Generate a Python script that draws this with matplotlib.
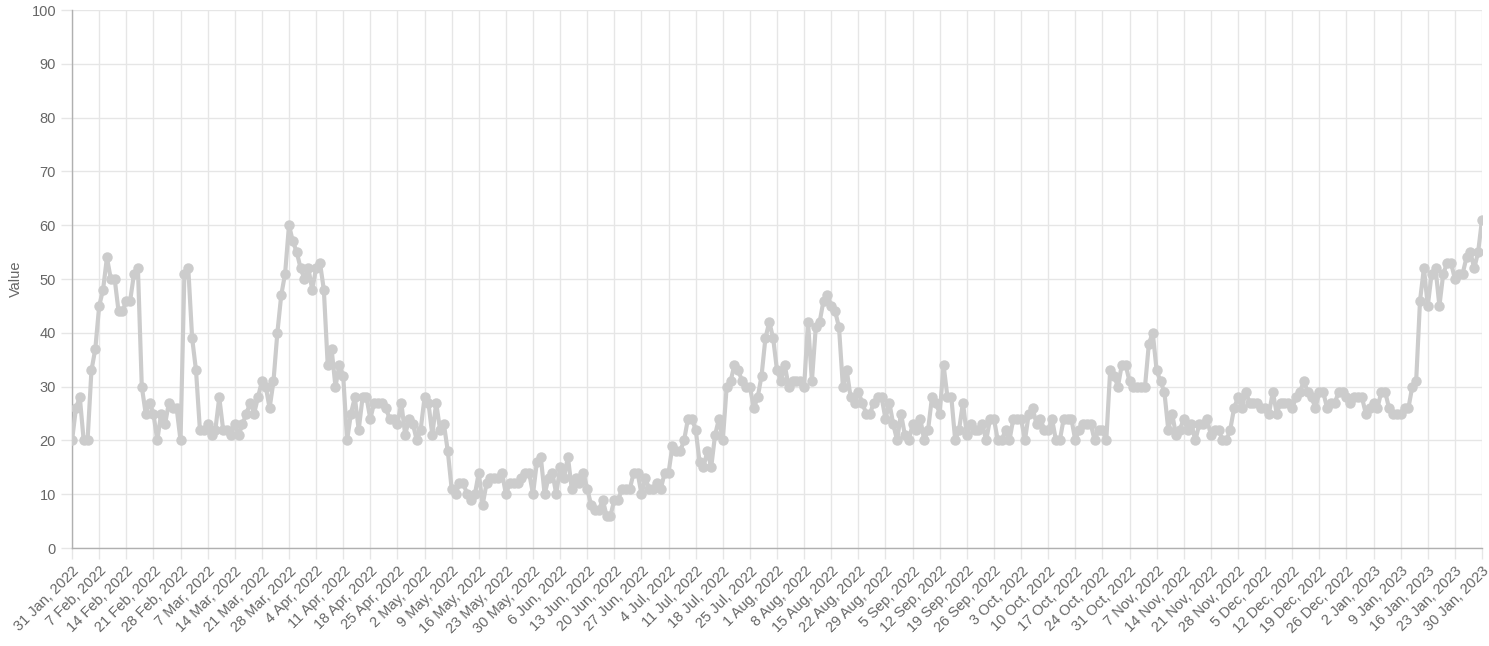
import pandas as pd
import matplotlib
matplotlib.use("Agg")
import matplotlib.pyplot as plt

plt.rcParams['font.family'] = ['Liberation Sans', 'DejaVu Sans']

# daily values, one row per week starting Monday 31 Jan 2022
start_date = "2022-01-31"
values = [
    20, 26, 28, 20, 20, 33, 37,
    45, 48, 54, 50, 50, 44, 44,
    46, 46, 51, 52, 30, 25, 27,
    25, 20, 25, 23, 27, 26, 26,
    20, 51, 52, 39, 33, 22, 22,
    23, 21, 22, 28, 22, 22, 21,
    23, 21, 23, 25, 27, 25, 28,
    31, 30, 26, 31, 40, 47, 51,
    60, 57, 55, 52, 50, 52, 48,
    52, 53, 48, 34, 37, 30, 34,
    32, 20, 25, 28, 22, 28, 28,
    24, 27, 27, 27, 26, 24, 24,
    23, 27, 21, 24, 23, 20, 22,
    28, 27, 21, 27, 22, 23, 18,
    11, 10, 12, 12, 10, 9, 10,
    14, 8, 12, 13, 13, 13, 14,
    10, 12, 12, 12, 13, 14, 14,
    10, 16, 17, 10, 13, 14, 10,
    15, 13, 17, 11, 13, 12, 14,
    11, 8, 7, 7, 9, 6, 6,
    9, 9, 11, 11, 11, 14, 14,
    10, 13, 11, 11, 12, 11, 14,
    14, 19, 18, 18, 20, 24, 24,
    22, 16, 15, 18, 15, 21, 24,
    20, 30, 31, 34, 33, 31, 30,
    30, 26, 28, 32, 39, 42, 39,
    33, 31, 34, 30, 31, 31, 31,
    30, 42, 31, 41, 42, 46, 47,
    45, 44, 41, 30, 33, 28, 27,
    29, 27, 25, 25, 27, 28, 28,
    24, 27, 23, 20, 25, 21, 20,
    23, 22, 24, 20, 22, 28, 27,
    25, 34, 28, 28, 20, 22, 27,
    21, 23, 22, 22, 23, 20, 24,
    24, 20, 20, 22, 20, 24, 24,
    24, 20, 25, 26, 23, 24, 22,
    22, 24, 20, 20, 24, 24, 24,
    20, 22, 23, 23, 23, 20, 22,
    22, 20, 33, 32, 30, 34, 34,
    31, 30, 30, 30, 30, 38, 40,
    33, 31, 29, 22, 25, 21, 22,
    24, 22, 23, 20, 23, 23, 24,
    21, 22, 22, 20, 20, 22, 26,
    28, 26, 29, 27, 27, 27, 26,
    26, 25, 29, 25, 27, 27, 27,
    26, 28, 29, 31, 29, 28, 26,
    29, 29, 26, 27, 27, 29, 29,
    28, 27, 28, 28, 28, 25, 26,
    27, 26, 29, 29, 26, 25, 25,
    25, 26, 26, 30, 31, 46, 52,
    45, 51, 52, 45, 51, 53, 53,
    50, 51, 51, 54, 55, 52, 55,
    61,
]
dates = pd.date_range(start_date, periods=len(values), freq="D")
week_ticks = dates[::7]
tick_labels = [f"{d.day} {d.strftime('%b')}, {d.year}" for d in week_ticks]
y_ticks = list(range(0, 101, 10))

fig = plt.figure(figsize=(14.89, 6.46), dpi=100)
ax = fig.add_axes([0.0484, 0.1517, 0.9469, 0.8328])

ax.plot(dates, values, color="#cccccc", linewidth=3, marker="o",
        markersize=6.5, markerfacecolor="#cccccc", markeredgecolor="#cccccc",
        zorder=3)

ax.set_xlim(dates[0], dates[-1])
ax.set_ylim(0, 100)
ax.set_yticks(y_ticks)
ax.set_xticks(week_ticks)
ax.set_xticklabels(tick_labels, rotation=45, ha="right", rotation_mode="anchor")

ax.grid(True, color="#e6e6e6", linewidth=1, zorder=0)
for side in ["top", "right"]:
    ax.spines[side].set_visible(False)
for side in ["left", "bottom"]:
    ax.spines[side].set_color("#b0b0b0")
    ax.spines[side].set_linewidth(1)

ax.tick_params(axis="both", colors="#e6e6e6", labelcolor="#666666",
               labelsize=10.5, length=8, width=1)
ax.set_ylabel("Value", color="#666666", fontsize=10.5, labelpad=6)

fig.savefig("out.png", dpi=100)
